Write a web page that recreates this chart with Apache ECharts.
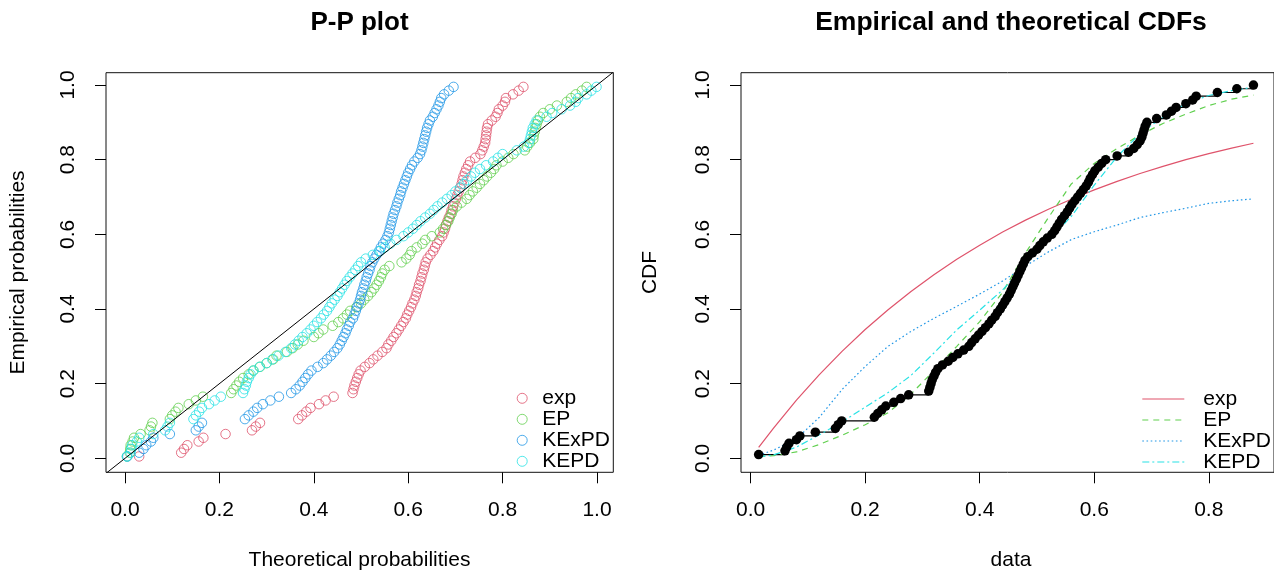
<!DOCTYPE html>
<html>
<head>
<meta charset="utf-8">
<script src="https://cdn.jsdelivr.net/npm/echarts@6/dist/echarts.min.js"></script>
<style>
  html, body { margin: 0; padding: 0; background: #fff; }
  #chart { width: 1274px; height: 573px; }
</style>
</head>
<body>
<div id="chart"></div>
<script>
// ---- data ----------------------------------------------------------------
const modelNames = ['exp', 'EP', 'KExPD', 'KEPD'];

// ordered sample (n = 100)
const sampleSorted = [
  0.014, 0.060, 0.063, 0.067, 0.080, 0.086, 0.113, 0.148, 0.153, 0.159,
  0.216, 0.222, 0.229, 0.236, 0.250, 0.262, 0.276, 0.311, 0.313, 0.315,
  0.317, 0.320, 0.323, 0.327, 0.335, 0.345, 0.353, 0.362, 0.372, 0.381,
  0.386, 0.392, 0.398, 0.404, 0.410, 0.416, 0.421, 0.427, 0.431, 0.436,
  0.440, 0.444, 0.448, 0.452, 0.455, 0.458, 0.461, 0.464, 0.467, 0.470,
  0.473, 0.476, 0.479, 0.484, 0.492, 0.500, 0.505, 0.511, 0.518, 0.526,
  0.531, 0.535, 0.539, 0.543, 0.548, 0.553, 0.557, 0.561, 0.566, 0.571,
  0.576, 0.581, 0.586, 0.590, 0.593, 0.597, 0.601, 0.607, 0.613, 0.620,
  0.640, 0.660, 0.669, 0.675, 0.680, 0.683, 0.685, 0.687, 0.689, 0.692,
  0.709, 0.726, 0.735, 0.743, 0.760, 0.772, 0.778, 0.815, 0.849, 0.878
];

// fitted probabilities at each ordered observation (P-P plot abscissae)
const ppExp = [
  0.030, 0.119, 0.125, 0.132, 0.156, 0.166, 0.213, 0.269, 0.277, 0.286,
  0.367, 0.375, 0.384, 0.393, 0.411, 0.425, 0.442, 0.482, 0.484, 0.486,
  0.489, 0.492, 0.495, 0.499, 0.508, 0.518, 0.526, 0.535, 0.545, 0.554,
  0.558, 0.564, 0.569, 0.575, 0.580, 0.585, 0.590, 0.595, 0.598, 0.602,
  0.606, 0.609, 0.613, 0.616, 0.618, 0.621, 0.623, 0.626, 0.628, 0.630,
  0.633, 0.635, 0.637, 0.641, 0.647, 0.653, 0.657, 0.661, 0.666, 0.672,
  0.675, 0.678, 0.680, 0.683, 0.686, 0.690, 0.692, 0.695, 0.698, 0.701,
  0.704, 0.707, 0.710, 0.713, 0.715, 0.717, 0.720, 0.723, 0.727, 0.731,
  0.742, 0.753, 0.757, 0.760, 0.763, 0.764, 0.765, 0.766, 0.767, 0.769,
  0.777, 0.785, 0.789, 0.792, 0.800, 0.805, 0.807, 0.822, 0.834, 0.844
];
const ppEP = [
  0.004, 0.010, 0.011, 0.012, 0.016, 0.019, 0.033, 0.052, 0.055, 0.058,
  0.095, 0.100, 0.107, 0.113, 0.135, 0.150, 0.165, 0.225, 0.230, 0.236,
  0.242, 0.250, 0.262, 0.272, 0.286, 0.300, 0.314, 0.321, 0.343, 0.355,
  0.366, 0.378, 0.400, 0.410, 0.420, 0.440, 0.452, 0.462, 0.470, 0.477,
  0.490, 0.500, 0.507, 0.515, 0.522, 0.528, 0.533, 0.538, 0.542, 0.545,
  0.550, 0.560, 0.586, 0.596, 0.603, 0.607, 0.618, 0.630, 0.636, 0.650,
  0.667, 0.674, 0.680, 0.685, 0.688, 0.692, 0.695, 0.703, 0.713, 0.724,
  0.730, 0.737, 0.745, 0.752, 0.760, 0.767, 0.775, 0.782, 0.787, 0.800,
  0.812, 0.823, 0.847, 0.852, 0.858, 0.865, 0.866, 0.868, 0.870, 0.872,
  0.875, 0.879, 0.886, 0.900, 0.915, 0.936, 0.945, 0.955, 0.968, 0.978
];
const ppKExPD = [
  0.005, 0.030, 0.039, 0.045, 0.055, 0.060, 0.095, 0.150, 0.156, 0.163,
  0.254, 0.262, 0.272, 0.280, 0.292, 0.308, 0.326, 0.352, 0.362, 0.370,
  0.376, 0.382, 0.388, 0.395, 0.408, 0.420, 0.428, 0.436, 0.443, 0.450,
  0.455, 0.459, 0.463, 0.467, 0.470, 0.474, 0.477, 0.483, 0.486, 0.489,
  0.492, 0.495, 0.498, 0.500, 0.502, 0.505, 0.507, 0.510, 0.512, 0.515,
  0.518, 0.520, 0.524, 0.528, 0.533, 0.538, 0.542, 0.547, 0.552, 0.556,
  0.559, 0.561, 0.563, 0.565, 0.567, 0.569, 0.572, 0.575, 0.577, 0.580,
  0.583, 0.585, 0.588, 0.591, 0.594, 0.597, 0.600, 0.604, 0.608, 0.613,
  0.620, 0.625, 0.628, 0.630, 0.632, 0.634, 0.636, 0.638, 0.640, 0.643,
  0.646, 0.652, 0.656, 0.660, 0.664, 0.667, 0.670, 0.676, 0.686, 0.696
];
const ppKEPD = [
  0.004, 0.012, 0.013, 0.015, 0.025, 0.030, 0.060, 0.085, 0.090, 0.095,
  0.145, 0.150, 0.157, 0.163, 0.178, 0.190, 0.203, 0.250, 0.253, 0.256,
  0.258, 0.262, 0.266, 0.272, 0.285, 0.300, 0.312, 0.325, 0.340, 0.352,
  0.360, 0.368, 0.376, 0.385, 0.393, 0.400, 0.407, 0.415, 0.421, 0.428,
  0.433, 0.438, 0.444, 0.450, 0.455, 0.460, 0.465, 0.470, 0.476, 0.482,
  0.488, 0.494, 0.500, 0.510, 0.525, 0.540, 0.550, 0.562, 0.575, 0.590,
  0.600, 0.610, 0.618, 0.626, 0.636, 0.646, 0.654, 0.662, 0.672, 0.682,
  0.692, 0.700, 0.710, 0.718, 0.725, 0.733, 0.741, 0.752, 0.765, 0.780,
  0.790, 0.800, 0.830, 0.845, 0.855, 0.858, 0.860, 0.862, 0.864, 0.868,
  0.872, 0.893, 0.905, 0.925, 0.943, 0.955, 0.960, 0.978, 0.988, 0.999
];

// theoretical CDFs evaluated along the data range
const cdfGrid = [0.014, 0.04, 0.08, 0.12, 0.16, 0.20, 0.24, 0.28, 0.32, 0.36, 0.40, 0.44,
                 0.48, 0.52, 0.56, 0.60, 0.64, 0.68, 0.72, 0.76, 0.80, 0.84, 0.878];
const cdfExp   = [0.029, 0.081, 0.156, 0.224, 0.287, 0.345, 0.398, 0.447, 0.492, 0.533, 0.571, 0.606,
                  0.638, 0.667, 0.694, 0.719, 0.742, 0.763, 0.782, 0.800, 0.816, 0.831, 0.844];
const cdfEP    = [0.005, 0.007, 0.017, 0.037, 0.062, 0.090, 0.122, 0.172, 0.235, 0.300, 0.366, 0.445,
                  0.550, 0.645, 0.735, 0.790, 0.830, 0.866, 0.897, 0.922, 0.945, 0.962, 0.973];
const cdfKExPD = [0.008, 0.022, 0.052, 0.110, 0.185, 0.246, 0.300, 0.340, 0.375, 0.407, 0.440, 0.475,
                  0.515, 0.553, 0.586, 0.607, 0.625, 0.645, 0.658, 0.670, 0.683, 0.690, 0.695];
const cdfKEPD  = [0.004, 0.009, 0.030, 0.063, 0.098, 0.137, 0.176, 0.222, 0.282, 0.344, 0.397, 0.451,
                  0.518, 0.585, 0.648, 0.732, 0.808, 0.870, 0.914, 0.950, 0.972, 0.985, 0.994];

// tick labels
const probTicks = [0, 0.2, 0.4, 0.6, 0.8, 1.0];
const dataTicks = [0, 0.2, 0.4, 0.6, 0.8];
// y = x reference line ends
const diagonalEnds = [-0.1, 1.1];

// ---- derived tables --------------------------------------------------------
const n = sampleSorted.length;
const ppPos = sampleSorted.map((_, i) => (i + 0.5) / n);   // plotting positions
const ecdfPos = sampleSorted.map((_, i) => (i + 1) / n);   // ECDF heights
const ppSets = [ppExp, ppEP, ppKExPD, ppKEPD];
const cdfSets = [cdfExp, cdfEP, cdfKExPD, cdfKEPD];

// ---- styling ---------------------------------------------------------------
const palette = ['#DF536B', '#61D04F', '#2297E6', '#28E2E5'];
const dashes = ['solid', [6, 5], [1.6, 2.6], [7, 3, 2, 3]];
const FONT = '"Liberation Sans", Arial, Helvetica, sans-serif';
const cdfSuffix = ' cdf';

function valueAxis(grid, min, max, ticks, rotate) {
  return {
    type: 'value', gridIndex: grid, min: min, max: max,
    axisLine: { show: false, onZero: false },
    axisTick: { show: true, length: 11, customValues: ticks, lineStyle: { color: '#000', width: 1 } },
    axisLabel: {
      customValues: ticks, formatter: v => v.toFixed(1), rotate: rotate,
      fontSize: 21, fontFamily: FONT, color: '#000', margin: 27, lineHeight: 21
    },
    splitLine: { show: false }
  };
}

const series = [];
modelNames.forEach((name, k) => {
  series.push({
    name: name, type: 'scatter', xAxisIndex: 0, yAxisIndex: 0,
    symbol: 'circle', symbolSize: 9.5,
    itemStyle: { color: 'rgba(0,0,0,0)', borderColor: palette[k], borderWidth: 1 },
    emphasis: { disabled: true },
    data: ppSets[k].map((p, i) => [p, ppPos[i]])
  });
});
series.push({
  name: 'y = x', type: 'line', xAxisIndex: 0, yAxisIndex: 0, symbol: 'none',
  lineStyle: { color: '#000', width: 1 }, clip: true, silent: true,
  data: diagonalEnds.map(v => [v, v])
});
series.push({
  name: 'ecdf', type: 'line', xAxisIndex: 1, yAxisIndex: 1, step: 'end',
  symbol: 'circle', symbolSize: 9.5, showSymbol: true,
  itemStyle: { color: '#000' }, lineStyle: { color: '#000', width: 1.2 },
  silent: true,
  data: sampleSorted.map((x, i) => [x, ecdfPos[i]])
});
modelNames.forEach((name, k) => {
  series.push({
    name: name + cdfSuffix, type: 'line', xAxisIndex: 1, yAxisIndex: 1,
    symbol: 'none', smooth: false, silent: true,
    itemStyle: { color: palette[k] },
    lineStyle: { color: palette[k], width: 1.2, type: dashes[k] },
    data: cdfGrid.map((x, i) => [x, cdfSets[k][i]])
  });
});

function label(text, x, y, size, bold, rotation) {
  return {
    type: 'text', x: x, y: y, rotation: rotation || 0, silent: true,
    style: {
      text: text, fill: '#000', fontSize: size, fontFamily: FONT,
      fontWeight: bold ? 'bold' : 'normal',
      align: 'center', verticalAlign: 'middle',
      textAlign: 'center', textVerticalAlign: 'middle'
    }
  };
}

const option = {
  animation: false,
  backgroundColor: '#fff',
  grid: [
    { left: 106, top: 72.7, width: 507.3, height: 399.6, show: true, borderColor: '#111', borderWidth: 1, backgroundColor: 'transparent' },
    { left: 741, top: 72.7, width: 541.7, height: 399.6, show: true, borderColor: '#111', borderWidth: 1, backgroundColor: 'transparent' }
  ],
  xAxis: [
    valueAxis(0, -0.0403, 1.0345, probTicks, 0),
    valueAxis(1, -0.01684, 0.9139, dataTicks, 0)
  ],
  yAxis: [
    valueAxis(0, -0.0375, 1.033, probTicks, 90),
    valueAxis(1, -0.0375, 1.033, probTicks, 90)
  ],
  legend: [
    {
      data: modelNames, orient: 'vertical', left: 511.7, top: 382.8,
      itemWidth: 10, itemHeight: 10, itemGap: 0, selectedMode: false,
      itemStyle: { borderWidth: 1 },
      textStyle: { fontSize: 21, fontFamily: FONT, color: '#000', lineHeight: 19.7, padding: [0, 0, 0, 10] }
    },
    {
      data: modelNames.map(m => m + cdfSuffix), orient: 'vertical', left: 1136.7, top: 383.5,
      itemWidth: 42, itemHeight: 10, itemGap: 0, selectedMode: false,
      formatter: name => name.slice(0, name.length - cdfSuffix.length),
      itemStyle: { opacity: 0 },
      lineStyle: { width: 1.2 },
      textStyle: { fontSize: 21, fontFamily: FONT, color: '#000', lineHeight: 19.5, padding: [0, 0, 0, 14] }
    }
  ],
  graphic: [
    label('P-P plot', 359.5, 22.5, 26, true),
    label('Empirical and theoretical CDFs', 1011, 22.5, 26.5, true),
    label('Theoretical probabilities', 359.5, 560, 21, false),
    label('data', 1011, 560, 21, false),
    label('Empirical probabilities', 18, 272.5, 21, false, Math.PI / 2),
    label('CDF', 650, 272.5, 21, false, Math.PI / 2)
  ],
  series: series
};

const chart = echarts.init(document.getElementById('chart'), null, { renderer: 'canvas' });
chart.setOption(option);
</script>
</body>
</html>
